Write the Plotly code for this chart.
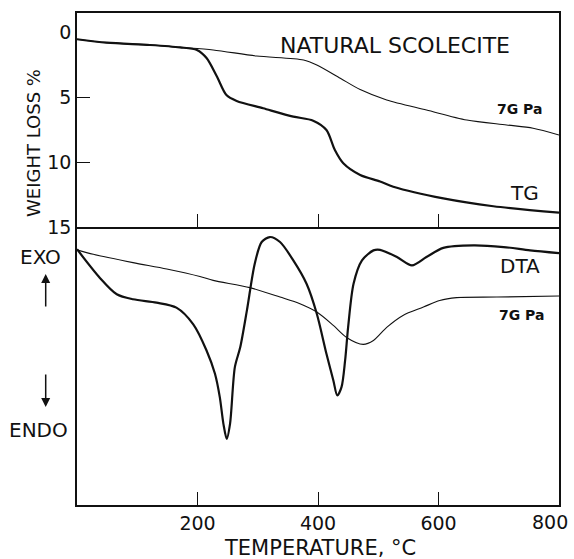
import plotly.graph_objects as go
from plotly.subplots import make_subplots

# ---------------- data ----------------
# TG, natural scolecite (weight loss %)
tg_nat_T = [0, 49, 121, 171, 199, 215, 232, 248, 265, 309, 359, 392, 414, 428, 442, 470, 503, 525, 608, 691, 800]
tg_nat_W = [0.56, 0.82, 1.0, 1.18, 1.38, 2.0, 3.4, 4.85, 5.3, 5.87, 6.51, 6.82, 7.54, 9.08, 10.1, 11.0, 11.5, 11.9, 12.8, 13.4, 13.9]
# TG, 7 GPa
tg_7g_T = [0, 49, 121, 171, 226, 298, 376, 398, 437, 470, 514, 580, 647, 713, 757, 800]
tg_7g_W = [0.56, 0.82, 1.0, 1.18, 1.38, 1.85, 2.15, 2.54, 3.56, 4.43, 5.23, 6.0, 6.77, 7.15, 7.4, 7.92]

# DTA, natural scolecite (arbitrary units, exo up)
dta_nat_T = [0, 38, 66, 93, 132, 165, 193, 215, 229, 237, 243, 248.5, 254, 262, 271, 282, 295,
             306.5, 320, 337, 359, 381, 398, 414, 425.5, 432, 439, 445, 450, 459, 473, 492,
             503, 531, 556, 580, 608, 658, 708, 752, 800]
dta_nat_V = [92.0, 81.7, 75.8, 74.0, 72.8, 71.0, 65.0, 55.6, 47.2, 38.8, 29.2, 23.8, 29.2, 49.6,
             56.8, 70.0, 86.8, 94.6, 96.4, 94.6, 88.0, 79.6, 68.8, 54.4, 44.8, 39.4, 42.4, 52.0,
             64.0, 79.6, 88.0, 91.6, 91.8, 89.2, 86.2, 89.2, 92.5, 93.4, 92.8, 91.6, 90.6]
# DTA, 7 GPa
dta_7g_T = [0, 27, 93, 149, 204, 226, 287, 337, 370, 398, 425.5, 448, 475, 492, 514, 541, 575, 602, 630, 697, 800]
dta_7g_V = [91.8, 90.2, 87.2, 84.9, 82.2, 80.8, 78.2, 74.8, 72.4, 69.4, 64.6, 60.2, 57.8, 59.2, 63.9, 68.2, 71.2, 73.6, 74.6, 74.8, 75.2]

x_ticks = [200, 400, 600, 800]
x_labels = ["200", "400", "600", ""]   # the last label (800) is placed by hand at the edge
last_x_label = "800"
tg_ticks = [0, 5, 10, 15]

# ---------------- figure ----------------
W, H = 574, 559
ML, MR, MT, MB = 77, 15, 13, 54
PW, PH = W - ML - MR, H - MT - MB

def px(x):
    return (x - ML) / PW

def py(y):
    return (H - MB - y) / PH

FONT = "DejaVu Sans"
BLACK = "#111111"

fig = make_subplots(rows=2, cols=1, shared_xaxes=True, vertical_spacing=0,
                    row_heights=[0.435, 0.565])

thick = dict(color=BLACK, width=2.2, shape="spline", smoothing=0.8)
thin = dict(color=BLACK, width=1.1, shape="spline", smoothing=0.8)

fig.add_trace(go.Scatter(x=tg_7g_T, y=tg_7g_W, mode="lines", line=thin), row=1, col=1)
fig.add_trace(go.Scatter(x=tg_nat_T, y=tg_nat_W, mode="lines", line=thick), row=1, col=1)
fig.add_trace(go.Scatter(x=dta_7g_T, y=dta_7g_V, mode="lines", line=thin), row=2, col=1)
fig.add_trace(go.Scatter(x=dta_nat_T, y=dta_nat_V, mode="lines", line=thick), row=2, col=1)

axis_common = dict(showline=True, linecolor=BLACK, linewidth=1.5,
                   showgrid=False, zeroline=False, automargin=False)

fig.update_xaxes(range=[0, 800], tickvals=x_ticks, ticktext=x_labels, ticks="inside",
                 ticklen=13, tickwidth=1.2, tickcolor=BLACK, **axis_common)
fig.update_xaxes(showticklabels=False, mirror=True, row=1, col=1)
fig.update_xaxes(showticklabels=True, mirror=False, row=2, col=1,
                 tickfont=dict(family=FONT, size=19, color=BLACK))

fig.update_yaxes(range=[15, -1.46], tickvals=tg_ticks, ticks="", mirror=True,
                 tickfont=dict(family=FONT, size=19, color=BLACK),
                 minor=dict(tickvals=[5, 10], ticks="inside", ticklen=13,
                            tickwidth=1.2, tickcolor=BLACK),
                 row=1, col=1, **axis_common)
fig.update_yaxes(range=[0, 100], showticklabels=False, ticks="", mirror=True,
                 row=2, col=1, **axis_common)

def txt(s, x, y, size=20, xanchor="center", angle=0, bold=False):
    fig.add_annotation(text=("<b>%s</b>" % s) if bold else s, x=px(x), y=py(y),
                       xref="paper", yref="paper", xanchor=xanchor, yanchor="middle",
                       textangle=angle, showarrow=False,
                       font=dict(family=FONT, size=size, color=BLACK))

txt("NATURAL SCOLECITE", 278, 46, size=22, xanchor="left")
txt("7G Pa", 519, 108.5, size=14, bold=True)
txt("TG", 524, 192.5, size=20)
txt("DTA", 520, 266, size=20)
txt("7G Pa", 521, 315.5, size=14, bold=True)
txt("EXO", 40.5, 257, size=20)
txt("ENDO", 38.5, 430, size=20)
txt("WEIGHT LOSS %", 33, 143, size=18, angle=-90)
txt("TEMPERATURE, °C", 320, 548, size=21)
txt(last_x_label, 550, 521.5, size=19)

# EXO / ENDO arrows
for tip, tail in [(274, 308), (407, 373)]:
    fig.add_annotation(x=px(45.7), y=py(tip), xref="paper", yref="paper",
                       ax=0, ay=tail - tip, axref="pixel", ayref="pixel",
                       text="", showarrow=True, arrowhead=2, arrowsize=1.2,
                       arrowwidth=1.5, arrowcolor=BLACK)

fig.update_layout(width=W, height=H, margin=dict(l=ML, r=MR, t=MT, b=MB, autoexpand=False),
                  plot_bgcolor="white", paper_bgcolor="white", showlegend=False,
                  font=dict(family=FONT, color=BLACK))

fig.write_html(
    "out.html",
    config={"displayModeBar": False, "responsive": False},
    post_script=("document.documentElement.style.overflow='hidden';"
                 "document.body.style.overflow='hidden';"
                 "document.body.style.margin='0';"),
)
